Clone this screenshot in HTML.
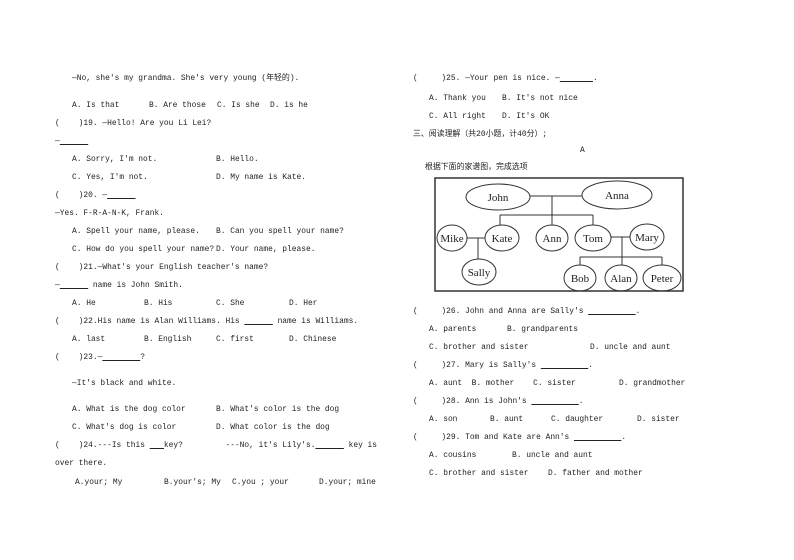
<!DOCTYPE html>
<html><head><meta charset="utf-8"><style>
body{margin:0;width:794px;height:560px;background:#fff;position:relative;overflow:hidden;font-family:"Liberation Mono","Noto Sans CJK SC",monospace;font-size:7.9px;color:#222}
.t{position:absolute;white-space:pre;line-height:10px;transform:translateY(-3px)}
</style></head><body>
<div class="t" style="left:72px;top:77px">—No, she's my grandma. She's very young (年轻的).</div>
<div class="t" style="left:72px;top:104px">A. Is that</div><div class="t" style="left:149px;top:104px">B. Are those</div><div class="t" style="left:217px;top:104px">C. Is she</div><div class="t" style="left:270px;top:104px">D. is he</div>
<div class="t" style="left:55px;top:122px">(    )19. —Hello! Are you Li Lei?</div>
<div class="t" style="left:55px;top:140px">—<u>      </u></div>
<div class="t" style="left:72px;top:158px">A. Sorry, I'm not.</div><div class="t" style="left:216px;top:158px">B. Hello.</div>
<div class="t" style="left:72px;top:176px">C. Yes, I'm not.</div><div class="t" style="left:216px;top:176px">D. My name is Kate.</div>
<div class="t" style="left:55px;top:194px">(    )20. —<u>      </u></div>
<div class="t" style="left:55px;top:212px">—Yes. F-R-A-N-K, Frank.</div>
<div class="t" style="left:72px;top:230px">A. Spell your name, please.</div><div class="t" style="left:216px;top:230px">B. Can you spell your name?</div>
<div class="t" style="left:72px;top:248px">C. How do you spell your name?</div><div class="t" style="left:216px;top:248px">D. Your name, please.</div>
<div class="t" style="left:55px;top:266px">(    )21.—What's your English teacher's name?</div>
<div class="t" style="left:55px;top:284px">—<u>      </u> name is John Smith.</div>
<div class="t" style="left:72px;top:302px">A. He</div><div class="t" style="left:144px;top:302px">B. His</div><div class="t" style="left:216px;top:302px">C. She</div><div class="t" style="left:289px;top:302px">D. Her</div>
<div class="t" style="left:55px;top:320px">(    )22.His name is Alan Williams. His <u>      </u> name is Williams.</div>
<div class="t" style="left:72px;top:338px">A. last</div><div class="t" style="left:144px;top:338px">B. English</div><div class="t" style="left:216px;top:338px">C. first</div><div class="t" style="left:289px;top:338px">D. Chinese</div>
<div class="t" style="left:55px;top:356px">(    )23.—<u>        </u>?</div>
<div class="t" style="left:72px;top:382px">—It's black and white.</div>
<div class="t" style="left:72px;top:408px">A. What is the dog color</div><div class="t" style="left:216px;top:408px">B. What's color is the dog</div>
<div class="t" style="left:72px;top:426px">C. What's dog is color</div><div class="t" style="left:216px;top:426px">D. What color is the dog</div>
<div class="t" style="left:55px;top:444px">(    )24.---Is this <u>   </u>key?         ---No, it's Lily's.<u>      </u> key is</div>
<div class="t" style="left:55px;top:462px">over there.</div>
<div class="t" style="left:75px;top:481px">A.your; My</div><div class="t" style="left:164px;top:481px">B.your's; My</div><div class="t" style="left:232px;top:481px">C.you ; your</div><div class="t" style="left:319px;top:481px">D.your; mine</div>

<div class="t" style="left:413px;top:77px">(     )25. —Your pen is nice. —<u>       </u>.</div>
<div class="t" style="left:429px;top:97px">A. Thank you</div><div class="t" style="left:502px;top:97px">B. It's not nice</div>
<div class="t" style="left:429px;top:115px">C. All right</div><div class="t" style="left:502px;top:115px">D. It's OK</div>
<div class="t" style="left:413px;top:133px">三、阅读理解（共20小题，计40分）;</div>
<div class="t" style="left:580px;top:149px">A</div>
<div class="t" style="left:425px;top:166px">根据下面的家谱图，完成选项</div>
<svg style="position:absolute;left:0;top:0" width="794" height="560" font-family="Liberation Serif,serif" font-size="11" text-anchor="middle">
<g fill="none" stroke="#333" stroke-width="1">
<rect x="435" y="178" width="248" height="113" stroke-width="1.5"/>
<path d="M530 196H582M552 196V215M500 215H593M500 215V225M552 215V225M593 215V225M467 238H485M478 238V259M611 237H630M622 237V265M580 257H662M580 257V265M662 257V265"/>
<ellipse cx="498" cy="197" rx="32" ry="13"/><ellipse cx="617" cy="195" rx="35" ry="14"/>
<ellipse cx="452" cy="238" rx="15" ry="13"/><ellipse cx="502" cy="238" rx="17" ry="13"/>
<ellipse cx="552" cy="238" rx="16" ry="13"/><ellipse cx="593" cy="238" rx="18" ry="13"/>
<ellipse cx="647" cy="237" rx="17" ry="13"/><ellipse cx="479" cy="272" rx="17" ry="13"/>
<ellipse cx="580" cy="278" rx="16" ry="13"/><ellipse cx="621" cy="278" rx="16" ry="13"/><ellipse cx="662" cy="278" rx="19" ry="13"/>
</g>
<g fill="#222">
<text x="498" y="201">John</text><text x="617" y="199">Anna</text><text x="452" y="242">Mike</text><text x="502" y="242">Kate</text>
<text x="552" y="242">Ann</text><text x="593" y="242">Tom</text><text x="647" y="241">Mary</text><text x="479" y="276">Sally</text>
<text x="580" y="282">Bob</text><text x="621" y="282">Alan</text><text x="662" y="282">Peter</text>
</g></svg>
<div class="t" style="left:413px;top:310px">(     )26. John and Anna are Sally's <u>          </u>.</div>
<div class="t" style="left:429px;top:328px">A. parents</div><div class="t" style="left:507px;top:328px">B. grandparents</div>
<div class="t" style="left:429px;top:346px">C. brother and sister</div><div class="t" style="left:590px;top:346px">D. uncle and aunt</div>
<div class="t" style="left:413px;top:364px">(     )27. Mary is Sally's <u>          </u>.</div>
<div class="t" style="left:429px;top:382px">A. aunt  B. mother    C. sister</div><div class="t" style="left:619px;top:382px">D. grandmother</div>
<div class="t" style="left:413px;top:400px">(     )28. Ann is John's <u>          </u>.</div>
<div class="t" style="left:429px;top:418px">A. son</div><div class="t" style="left:490px;top:418px">B. aunt</div><div class="t" style="left:551px;top:418px">C. daughter</div><div class="t" style="left:637px;top:418px">D. sister</div>
<div class="t" style="left:413px;top:436px">(     )29. Tom and Kate are Ann's <u>          </u>.</div>
<div class="t" style="left:429px;top:454px">A. cousins</div><div class="t" style="left:512px;top:454px">B. uncle and aunt</div>
<div class="t" style="left:429px;top:472px">C. brother and sister</div><div class="t" style="left:548px;top:472px">D. father and mother</div>
</body></html>
